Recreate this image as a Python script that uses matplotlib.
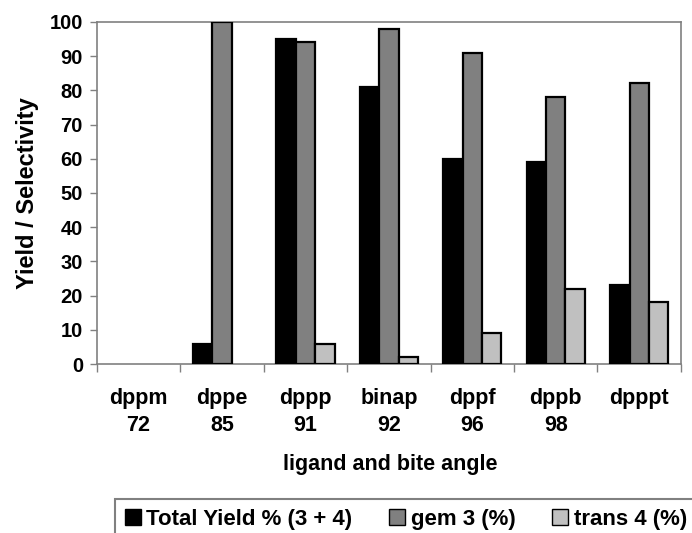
import numpy as np
import matplotlib.pyplot as plt
from matplotlib.patches import Patch

plt.rcParams['font.family'] = ['Liberation Sans', 'DejaVu Sans']
plt.rcParams['font.weight'] = 'bold'

ligands = ['dppm\n72', 'dppe\n85', 'dppp\n91', 'binap\n92', 'dppf\n96', 'dppb\n98', 'dpppt']
total_yield = [0, 6, 95, 81, 60, 59, 23]
gem3 = [0, 100, 94, 98, 91, 78, 82]
trans4 = [0, 0, 6, 2, 9, 22, 18]

series = [
    ('Total Yield % (3 + 4)', total_yield, '#000000'),
    ('gem 3 (%)', gem3, '#808080'),
    ('trans 4 (%)', trans4, '#c0c0c0'),
]

fig = plt.figure(figsize=(6.92, 5.33), dpi=100)
ax = fig.add_axes([0.140, 0.317, 0.844, 0.642])

x = np.arange(len(ligands))
w = 0.232
for i, (name, vals, col) in enumerate(series):
    v = np.array(vals, dtype=float)
    keep = v > 0
    ax.bar(x[keep] + (i - 1) * w, v[keep], width=w, color=col,
           edgecolor='black', linewidth=1.6, zorder=3)

ax.set_xlim(-0.5, len(ligands) - 0.5)
ax.set_ylim(0, 100)
ax.set_yticks(range(0, 101, 10))
ax.tick_params(axis='y', labelsize=14.5, length=5, width=1, color='#808080', pad=5)

# category labels sit between the boundary ticks
ax.set_xticks(np.arange(len(ligands) + 1) - 0.5)
ax.set_xticklabels([])
ax.tick_params(axis='x', length=6, width=1, color='#808080')
for xi, lab in zip(x, ligands):
    ax.text(xi, -7.0, lab, ha='center', va='top', fontsize=15.5,
            fontweight='bold', linespacing=1.4)

for s in ax.spines.values():
    s.set_color('#808080')
    s.set_linewidth(1.2)

ax.set_ylabel('Yield / Selectivity', fontsize=17, fontweight='bold', labelpad=8)
fig.text(0.564, 0.128, 'ligand and bite angle', ha='center', va='center',
         fontsize=15.5, fontweight='bold')

handles = [Patch(facecolor=c, edgecolor='black', linewidth=1, label=n)
           for n, _, c in series]
leg = fig.legend(handles=handles, loc='upper left', bbox_to_anchor=(0.166, 0.064),
                 ncol=3, frameon=True, fancybox=False, fontsize=16,
                 handlelength=0.72, handleheight=0.72, handletextpad=0.25,
                 columnspacing=1.65, borderpad=0.45, borderaxespad=0)
leg.get_frame().set_edgecolor('#606060')
leg.get_frame().set_linewidth(1.5)

fig.savefig('out.png', dpi=100)
